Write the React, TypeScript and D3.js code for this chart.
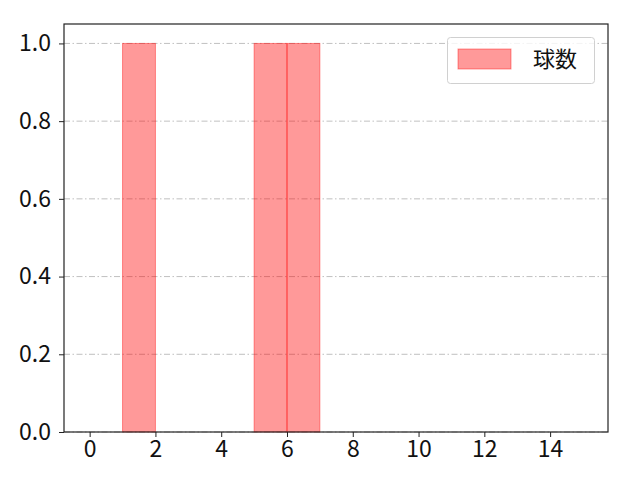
import React, { useEffect, useRef } from 'react';
import * as d3 from 'd3';

// histogram bins (left edge) and counts
const binStarts = [1, 5, 6];
const binCounts = [1, 1, 1];
const xTicks = [0, 2, 4, 6, 8, 10, 12, 14];
const yTicks = [0, 0.2, 0.4, 0.6, 0.8, 1.0];
const seriesName = '球数';

const W = 640;
const H = 480;
const margin = { top: 24, right: 32, bottom: 48, left: 64 };
const FONT = '"Noto Sans CJK JP", "Noto Sans", sans-serif';

const App = () => {
  const ref = useRef<SVGSVGElement>(null);

  useEffect(() => {
    const svg = d3.select(ref.current);
    svg.selectAll('*').remove();

    const x = d3.scaleLinear().domain([-0.78, 15.76]).range([margin.left, W - margin.right]);
    const y = d3.scaleLinear().domain([0, 1.05]).range([H - margin.bottom, margin.top]);

    svg.append('rect').attr('width', W).attr('height', H).attr('fill', 'white');

    // grid lines (y only)
    svg.append('g')
      .selectAll('line')
      .data(yTicks)
      .enter()
      .append('line')
      .attr('x1', margin.left)
      .attr('x2', W - margin.right)
      .attr('y1', d => y(d))
      .attr('y2', d => y(d))
      .attr('stroke', '#b0b0b0')
      .attr('stroke-width', 0.8)
      .attr('stroke-dasharray', '6,2.5,1.5,2.5');

    // bars
    svg.append('g')
      .selectAll('rect')
      .data(binStarts.map((s, i) => ({ s, v: binCounts[i] })))
      .enter()
      .append('rect')
      .attr('x', d => x(d.s))
      .attr('y', d => y(d.v))
      .attr('width', d => x(d.s + 1) - x(d.s))
      .attr('height', d => y(0) - y(d.v))
      .attr('fill', 'rgba(255,0,0,0.4)')
      .attr('stroke', 'rgba(255,0,0,0.4)')
      .attr('stroke-width', 1);

    // axes
    const xAxis = svg.append('g')
      .attr('transform', `translate(0,${H - margin.bottom})`)
      .call(d3.axisBottom(x).tickValues(xTicks).tickSize(5).tickPadding(4).tickFormat(d3.format('d')));
    const yAxis = svg.append('g')
      .attr('transform', `translate(${margin.left},0)`)
      .call(d3.axisLeft(y).tickValues(yTicks).tickSize(5).tickPadding(8).tickFormat(d3.format('.1f')));

    [xAxis, yAxis].forEach(a => {
      a.select('.domain').remove();
      a.selectAll('line').attr('stroke', '#222').attr('stroke-width', 1);
      a.selectAll('text')
        .attr('fill', '#111')
        .style('font-family', FONT)
        .style('font-size', '23px');
    });

    // frame
    svg.append('rect')
      .attr('x', margin.left)
      .attr('y', margin.top)
      .attr('width', W - margin.left - margin.right)
      .attr('height', H - margin.top - margin.bottom)
      .attr('fill', 'none')
      .attr('stroke', '#222')
      .attr('stroke-width', 1.2);

    // legend
    const lg = svg.append('g');
    lg.append('rect')
      .attr('x', 447.5).attr('y', 37.5).attr('width', 147).attr('height', 46)
      .attr('rx', 3)
      .attr('fill', 'white').attr('fill-opacity', 0.8)
      .attr('stroke', '#d0d0d0');
    lg.append('rect')
      .attr('x', 458).attr('y', 49).attr('width', 53).attr('height', 20)
      .attr('fill', 'rgba(255,0,0,0.4)')
      .attr('stroke', 'rgba(255,0,0,0.4)');
    lg.append('text')
      .attr('x', 533).attr('y', 67)
      .style('font-family', FONT)
      .style('font-size', '22px')
      .attr('fill', '#111')
      .text(seriesName);
  }, []);

  return <svg ref={ref} width={W} height={H} style={{ display: 'block', margin: -8 }} />;
};

export default App;
